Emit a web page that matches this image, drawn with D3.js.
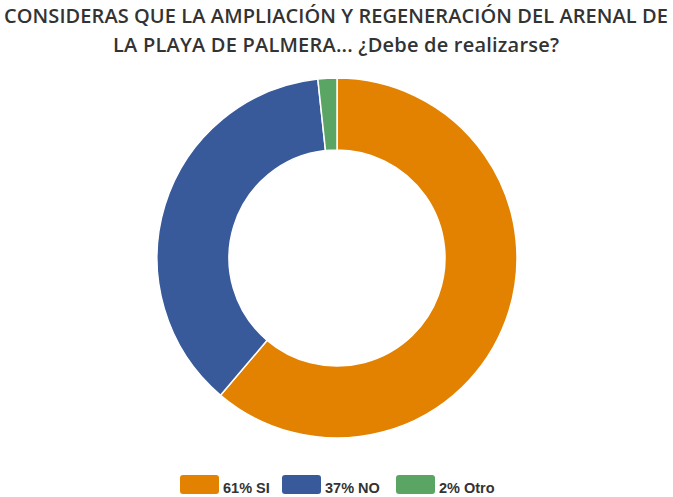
<!DOCTYPE html>
<html lang="en">
<head>
  <meta charset="UTF-8">
  <title>Arenal Playa de Palmera</title>
  <script src="https://d3js.org/d3.v7.min.js"></script>
  <style>
    body { margin: 0; background: #fff; }
  </style>
</head>
<body>
  <svg width="673" height="497"></svg>

  <script>
    // Data
    const categories = ["SI", "NO", "Otro"];
    const values = [61.2, 37.1, 1.7];
    const pctLabels = ["61%", "37%", "2%"];
    const colors = ["#e38200", "#385a9b", "#5aa564"];
    const titleLines = [
      "CONSIDERAS QUE LA AMPLIACIÓN Y REGENERACIÓN DEL ARENAL DE",
      "LA PLAYA DE PALMERA... ¿Debe de realizarse?"
    ];

    const svg = d3.select("svg");
    const cx = 337, cy = 258, outerR = 180, innerR = 108;

    // Title
    const titleLen = [664, 446];
    svg.append("g").selectAll("text")
      .data(titleLines)
      .join("text")
      .attr("x", 336)
      .attr("y", (d, i) => 23 + i * 29)
      .attr("text-anchor", "middle")
      .attr("textLength", (d, i) => titleLen[i])
      .style("font-family", "'Open Sans', sans-serif")
      .style("font-weight", 600)
      .style("font-size", "20px")
      .style("fill", "#333")
      .text(d => d);

    // Donut
    const data = categories.map((c, i) => ({ cat: c, value: values[i], color: colors[i] }));
    const pie = d3.pie().sort(null).value(d => d.value);
    const arc = d3.arc().innerRadius(innerR).outerRadius(outerR);

    svg.append("g")
      .attr("transform", `translate(${cx},${cy})`)
      .selectAll("path")
      .data(pie(data))
      .join("path")
      .attr("d", arc)
      .attr("fill", d => d.data.color)
      .attr("stroke", "#fff")
      .attr("stroke-width", 1.5);

    // Legend
    const legendX = [180, 282, 396];
    const legend = svg.append("g").selectAll("g")
      .data(data)
      .join("g")
      .attr("transform", (d, i) => `translate(${legendX[i]},475)`);

    legend.append("rect")
      .attr("width", 39)
      .attr("height", 19)
      .attr("rx", 3)
      .attr("fill", d => d.color);

    legend.append("text")
      .attr("x", 43)
      .attr("y", 18)
      .style("font-family", "'Liberation Sans', Arial, sans-serif")
      .style("font-weight", "bold")
      .style("font-size", "14.5px")
      .style("fill", "#333")
      .text((d, i) => pctLabels[i] + " " + d.cat);
  </script>
</body>
</html>
